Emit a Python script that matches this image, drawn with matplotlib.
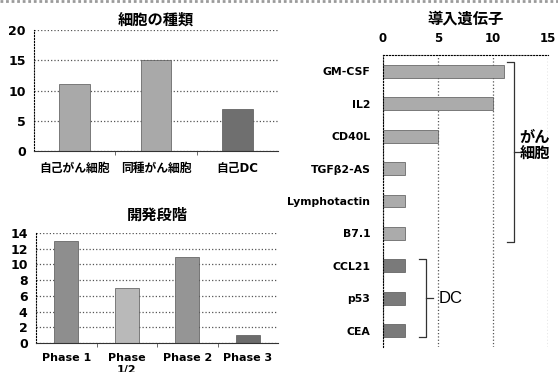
import matplotlib
matplotlib.use("Agg")
import matplotlib.pyplot as plt
from matplotlib.lines import Line2D
import numpy as np

plt.rcParams['font.family'] = ['DejaVu Sans', 'Noto Sans CJK JP']
plt.rcParams['font.weight'] = 'bold'

# data
cell_types = ['自己がん細胞', '同種がん細胞', '自己DC']
cell_counts = [11, 15, 7]

phases = ['Phase 1', 'Phase\n1/2', 'Phase 2', 'Phase 3']
phase_counts = [13, 7, 11, 1]

genes = ['GM-CSF', 'IL2', 'CD40L', 'TGFβ2-AS', 'Lymphotactin', 'B7.1',
         'CCL21', 'p53', 'CEA']
gene_counts = [11, 10, 5, 2, 2, 2, 2, 2, 2]

# bar colours
cell_colors = ['#a9a9a9', '#a9a9a9', '#6f6f6f']
phase_colors = ['#8e8e8e', '#b9b9b9', '#959595', '#6c6c6c']
gene_colors = ['#ababab'] * 6 + ['#7a7a7a'] * 3

W, H = 558, 372
fig = plt.figure(figsize=(W / 100, H / 100), dpi=100)


def box(l, t, r, b):
    return [l / W, 1 - b / H, (r - l) / W, (b - t) / H]


def style_axis(ax, grid_axis):
    ax.grid(axis=grid_axis, linestyle=':', color='#555555', linewidth=0.9)
    ax.set_axisbelow(True)
    for s in ax.spines.values():
        s.set_visible(False)
    ax.tick_params(labelsize=9, length=0)


def title(ax, text, px_above, ax_height):
    ax.text(0.5, 1 + px_above / ax_height, text, transform=ax.transAxes,
            ha='center', va='center', fontsize=11, fontweight='bold')


# --- 細胞の種類 ---
ax1 = fig.add_axes(box(34, 30, 278, 151))
x1 = np.arange(len(cell_types))
ax1.bar(x1, cell_counts, width=0.38, color=cell_colors,
        edgecolor='#555555', linewidth=0.5)
ax1.set_xlim(-0.5, len(cell_types) - 0.5)
ax1.set_ylim(0, 20)
ax1.set_yticks([0, 5, 10, 15, 20])
ax1.set_xticks(x1)
ax1.set_xticklabels(cell_types)
style_axis(ax1, 'y')
ax1.spines['left'].set_visible(True)
ax1.spines['left'].set_linestyle(':')
ax1.spines['bottom'].set_visible(True)
ax1.spines['bottom'].set_color('#333333')
ax1.set_xticks(x1[:-1] + 0.5, minor=True)
ax1.tick_params(axis='x', which='minor', length=3, color='#555555')
ax1.tick_params(axis='x', pad=8, labelsize=8.5)
ax1.tick_params(axis='y', pad=6)
title(ax1, '細胞の種類', 10, 121)

# --- 開発段階 ---
ax2 = fig.add_axes(box(36, 233, 278, 343))
x2 = np.arange(len(phases))
ax2.bar(x2, phase_counts, width=0.39, color=phase_colors,
        edgecolor='#555555', linewidth=0.5)
ax2.set_xlim(-0.5, len(phases) - 0.5)
ax2.set_ylim(0, 14)
ax2.set_yticks(range(0, 15, 2))
ax2.set_xticks(x2)
ax2.set_xticklabels(phases, va='top', linespacing=1.3)
style_axis(ax2, 'y')
ax2.spines['left'].set_visible(True)
ax2.spines['left'].set_linestyle(':')
ax2.spines['bottom'].set_visible(True)
ax2.spines['bottom'].set_color('#333333')
ax2.set_xticks(x2[:-1] + 0.5, minor=True)
ax2.tick_params(axis='x', which='minor', length=3, color='#555555')
ax2.tick_params(axis='x', pad=7, labelsize=8)
ax2.tick_params(axis='y', pad=6)
title(ax2, '開発段階', 18, 110)

# --- 導入遺伝子 ---
ax3 = fig.add_axes(box(383, 55, 548, 347))
y3 = np.arange(len(genes))
ax3.barh(y3, gene_counts, height=0.4, color=gene_colors,
         edgecolor='#555555', linewidth=0.5)
ax3.set_ylim(len(genes) - 0.5, -0.5)
ax3.set_xlim(0, 15)
ax3.set_xticks([0, 5, 10, 15])
ax3.set_yticks(y3)
ax3.set_yticklabels(genes)
ax3.xaxis.tick_top()
style_axis(ax3, 'x')
ax3.spines['left'].set_visible(True)
ax3.spines['left'].set_linestyle(':')
ax3.spines['top'].set_visible(True)
ax3.spines['top'].set_linestyle(':')
ax3.tick_params(axis='y', pad=9, labelsize=7.8)
ax3.tick_params(axis='x', pad=7, labelsize=8.5)
title(ax3, '導入遺伝子', 36, 292)


def bracket(ax, x0, x1, xm, ytop, ybot):
    ymid = (ytop + ybot) / 2
    kw = dict(color='#333333', linewidth=0.9, clip_on=False)
    ax.plot([x0, x1, x1, x0], [ytop, ytop, ybot, ybot], **kw)
    ax.plot([x1, xm], [ymid, ymid], **kw)
    return ymid


# がん細胞 group (first six genes) and DC group (last three)
m1 = bracket(ax3, 11.3, 11.9, 12.45, -0.27, 5.25)
ax3.text(12.4, m1 - 0.2, 'がん\n細胞', fontsize=11, fontweight='bold',
         va='center', ha='left', linespacing=1.05, clip_on=False)
m2 = bracket(ax3, 3.3, 3.9, 4.5, 5.8, 8.2)
ax3.text(5.1, m2, 'DC', fontsize=12, fontweight='normal',
         family='Liberation Sans', va='center', ha='left')

# thin border along the top edge
fig.add_artist(Line2D([0, 1], [0.996, 0.996], color='#9a9a9a',
                      linewidth=2, linestyle=(0, (1, 1))))

fig.savefig('out.png', dpi=100)
